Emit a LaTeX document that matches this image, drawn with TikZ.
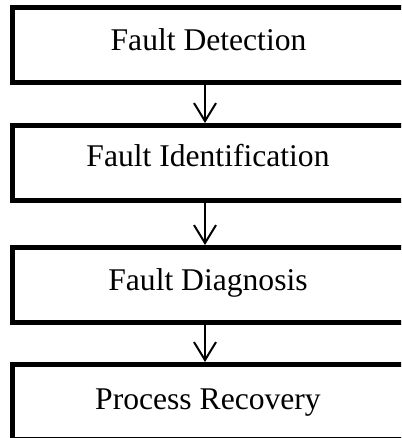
\documentclass[tikz,border=0pt]{standalone}
\usepackage{fontspec}
\setmainfont{Liberation Serif}
\usetikzlibrary{arrows.meta,calc}
\begin{document}
\begin{tikzpicture}[x=1pt,y=-1pt,
  stagebox/.style={draw=black, line width=5pt, rectangle, minimum width=415pt, minimum height=74.5pt, anchor=north west, inner sep=0pt, outer sep=0pt},
  stagetext/.style={anchor=base, inner sep=0pt, font=\fontsize{31.6}{38}\selectfont},
  flowarrow/.style={line width=2pt, -{Straight Barb[length=18pt,width=22pt,line width=2pt]}}
]
\useasboundingbox (0,0) rectangle (401,438);
\clip (0,0) rectangle (401,438);
\node[stagebox] (b1) at (12.5,8) {};
\node[stagebox] (b2) at (12.5,125.5) {};
\node[stagebox] (b3) at (12.5,247.5) {};
\node[stagebox] (b4) at (12.5,364.5) {};
\node[stagetext] (t1) at (208.5,51) {Fault Detection};
\node[stagetext] (t2) at (208,167) {Fault Identification};
\node[stagetext] (t3) at (208,290) {Fault Diagnosis};
\node[stagetext] (t4) at (208,409.5) {Process Recovery};
\coordinate (ax) at (205,0);
\draw[flowarrow] ($(ax |- b1.south)+(0,2.5)$) -- ($(ax |- b2.north)+(0,-2.5)$);
\draw[flowarrow] ($(ax |- b2.south)+(0,2.5)$) -- ($(ax |- b3.north)+(0,-2.5)$);
\draw[flowarrow] ($(ax |- b3.south)+(0,2.5)$) -- ($(ax |- b4.north)+(0,-2.5)$);
\end{tikzpicture}
\end{document}
